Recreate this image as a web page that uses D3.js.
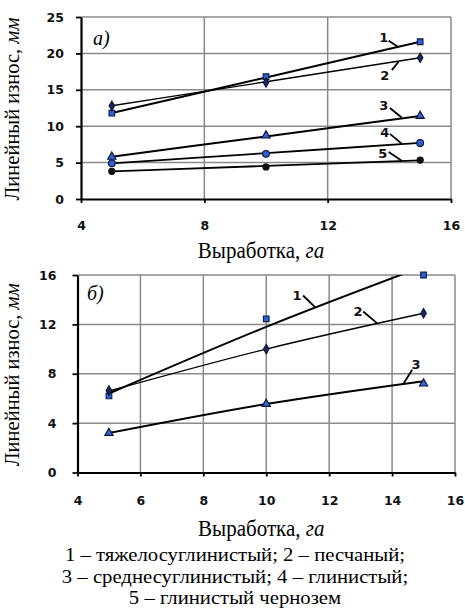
<!DOCTYPE html>
<html><head><meta charset="utf-8">
<script src="https://cdn.jsdelivr.net/npm/d3@7"></script>
<style>body{margin:0;background:#fff}svg{display:block}</style>
</head><body>
<svg id="c" width="465" height="611"></svg>
<script>
// ---- data ----
const xVals = [5, 10, 15];
// chart a)
const aXTicks = [4, 8, 12, 16];
const aYTicks = [0, 5, 10, 15, 20, 25];
const aS1 = [11.8, 16.8, 21.6];
const aS2 = [12.8, 16.0, 19.4];
const aS3 = [5.8, 8.7, 11.4];
const aS4 = [4.9, 6.2, 7.7];
const aS5 = [3.8, 4.4, 5.35];
const aT1 = [11.8, 16.7, 21.6];
const aT2 = [12.8, 16.1, 19.4];
const aT3 = [5.8, 8.6, 11.4];
const aT4 = [4.9, 6.3, 7.7];
const aT5 = [3.8, 4.55, 5.3];
// labels: [text, tx, ty, x1, y1, x2, y2]
const aLabels = [
  ["1", 13.82, 22.25, 13.98, 21.75, 14.3, 20.85],
  ["2", 13.85, 17.0, 14.08, 17.7, 14.3, 18.85],
  ["3", 13.82, 12.8, 14.02, 12.5, 14.4, 11.2],
  ["4", 13.85, 9.1, 14.02, 8.95, 14.4, 7.6],
  ["5", 13.79, 6.3, 13.98, 6.45, 14.4, 5.25]
];
// chart б)
const bXTicks = [4, 6, 8, 10, 12, 14, 16];
const bYTicks = [0, 4, 8, 12, 16];
const bS1 = [6.2, 12.45, 16.0];
const bS2 = [6.65, 10.0, 12.9];
const bS3 = [3.2, 5.55, 7.2];
const bT1 = [6.4, 11.8, 16.7];
const bT2 = [6.6, 10.0, 12.9];
const bT3 = [3.2, 5.55, 7.4];
const bLabels = [
  ["1", 10.98, 14.34, 11.17, 14.34, 11.55, 13.4],
  ["2", 12.92, 13.04, 13.08, 13.04, 13.52, 12.1],
  ["3", 14.76, 8.73, 14.64, 8.33, 14.35, 7.15]
];
const legendLines = [
  "1 – тяжелосуглинистый; 2 – песчаный;",
  "3 – среднесуглинистый; 4 – глинистый;",
  "5 – глинистый чернозем"
];

const SERIF = "Liberation Serif";
const SY = 1.1; // vertical stretch of serif titles
const svg = d3.select("#c");
const markerStyles = [
  {type: d3.symbolSquare, size: 32, fill: "#2b5fd9", stroke: "#0c1a44"},
  {type: d3.symbolDiamond, size: 26, fill: "#1a2a66", stroke: "#0a0f2a"},
  {type: d3.symbolTriangle, size: 30, fill: "#2f66dd", stroke: "#0a0f2a"},
  {type: d3.symbolCircle, size: 36, fill: "#2b5fd9", stroke: "#0a0f2a"},
  {type: d3.symbolCircle, size: 30, fill: "#111", stroke: "#111"}
];
const lineW = [2, 1.4, 2, 1.8, 1.8];

function chart(cfg) {
  const x = d3.scaleLinear().domain([cfg.xTicks[0], cfg.xTicks[cfg.xTicks.length-1]]).range(cfg.xr);
  const y = d3.scaleLinear().domain([cfg.yTicks[0], cfg.yTicks[cfg.yTicks.length-1]]).range(cfg.yr);
  const g = svg.append("g");
  // grid
  g.append("g").selectAll("line").data(cfg.yTicks.slice(1)).join("line")
    .attr("x1", cfg.xr[0]).attr("x2", cfg.xr[1]).attr("y1", d => y(d)).attr("y2", d => y(d))
    .attr("stroke", "#8a8a8a").attr("stroke-width", 1.5);
  g.append("g").selectAll("line").data(cfg.xTicks.slice(1)).join("line")
    .attr("y1", cfg.yr[0]).attr("y2", cfg.yr[1]).attr("x1", d => x(d)).attr("x2", d => x(d))
    .attr("stroke", "#8a8a8a").attr("stroke-width", 1.5);
  // axes
  const ax = g.append("g").attr("transform", `translate(0,${cfg.yr[0]})`)
    .call(d3.axisBottom(x).tickValues(cfg.xTicks).tickSize(4).tickSizeOuter(0).tickPadding(cfg.xPad));
  const ay = g.append("g").attr("transform", `translate(${cfg.xr[0]},0)`)
    .call(d3.axisLeft(y).tickValues(cfg.yTicks).tickSize(5).tickSizeOuter(0).tickPadding(cfg.yPad));
  [ax, ay].forEach(a => {
    a.select(".domain").attr("stroke", "#000").attr("stroke-width", 2.2);
    a.selectAll(".tick line").attr("stroke", "#000").attr("stroke-width", 1.8);
    a.selectAll(".tick text").attr("font-family", "DejaVu Sans").attr("font-weight", "bold")
      .attr("font-size", 12.5).attr("fill", "#111");
  });
  // lines
  const line = d3.line().x((d, i) => x(xVals[i])).y(d => y(d)).curve(d3.curveMonotoneX);
  const lg = g.append("g");
  if (cfg.clip) lg.attr("clip-path", cfg.clip);
  cfg.trends.forEach((t, k) => {
    lg.append("path").attr("d", line(t)).attr("fill", "none").attr("stroke", "#000")
      .attr("stroke-width", lineW[k]);
  });
  // markers
  cfg.series.forEach((s, k) => {
    const m = markerStyles[k];
    g.append("g").selectAll("path").data(s).join("path")
      .attr("transform", (d, i) => `translate(${x(xVals[i])},${y(d)})`)
      .attr("d", d3.symbol().type(m.type).size(m.size)())
      .attr("fill", m.fill).attr("stroke", m.stroke).attr("stroke-width", 1.1);
  });
  // labels
  cfg.labels.forEach(l => {
    g.append("line").attr("x1", x(l[3])).attr("y1", y(l[4])).attr("x2", x(l[5])).attr("y2", y(l[6]))
      .attr("stroke", "#000").attr("stroke-width", 1.8);
    g.append("text").attr("x", x(l[1])).attr("y", y(l[2])).attr("text-anchor", "middle")
      .attr("dominant-baseline", "central").attr("font-family", "DejaVu Sans").attr("font-weight", "bold")
      .attr("font-size", 13).attr("fill", "#111").text(l[0]);
  });
  // panel letter
  g.append("text").attr("transform", `translate(${cfg.letterPos[0]},${cfg.letterPos[1]}) scale(1,${SY})`)
    .attr("font-family", SERIF).attr("font-style", "italic").attr("font-size", 20)
    .text(cfg.letter);
  // axis titles
  const xt = g.append("text")
    .attr("transform", `translate(${(cfg.xr[0] + cfg.xr[1]) / 2 - 5},${cfg.xTitleY}) scale(1,${SY})`)
    .attr("text-anchor", "middle").attr("font-family", SERIF).attr("font-size", 21);
  xt.append("tspan").text("Выработка, ");
  xt.append("tspan").attr("font-style", "italic").text("га");
  const yt = g.append("text").attr("transform", `translate(${cfg.yTitleX},${(cfg.yr[0] + cfg.yr[1]) / 2 + 1}) rotate(-90)`)
    .attr("text-anchor", "middle").attr("font-family", SERIF).attr("font-size", 20.5);
  yt.append("tspan").text("Линейный износ, ");
  yt.append("tspan").attr("font-style", "italic").text("мм");
  return {x, y, g};
}

// clip for chart b
svg.append("defs").append("clipPath").attr("id", "clipB").append("rect")
  .attr("x", 0).attr("y", 275).attr("width", 465).attr("height", 300);

chart({
  xTicks: aXTicks, yTicks: aYTicks, xr: [81, 451], yr: [199, 17],
  series: [aS1, aS2, aS3, aS4, aS5], trends: [aT1, aT2, aT3, aT4, aT5], labels: aLabels,
  letter: "а)", letterPos: [93, 45], xTitleY: 258, yTitleX: 19, xPad: 18, yPad: 12
});
chart({
  xTicks: bXTicks, yTicks: bYTicks, xr: [77.5, 455], yr: [472.5, 275],
  series: [bS1, bS2, bS3], trends: [bT1, bT2, bT3], labels: bLabels, clip: "url(#clipB)",
  letter: "б)", letterPos: [87, 300], xTitleY: 536, yTitleX: 19, xPad: 20, yPad: 16
});

svg.append("g").selectAll("text").data(legendLines).join("text")
  .attr("transform", (d, i) => `translate(235,${561 + i * 21.5}) scale(1.12,1)`)
  .attr("text-anchor", "middle")
  .attr("font-family", SERIF).attr("font-size", 18.5).text(d => d);
</script>
</body></html>
